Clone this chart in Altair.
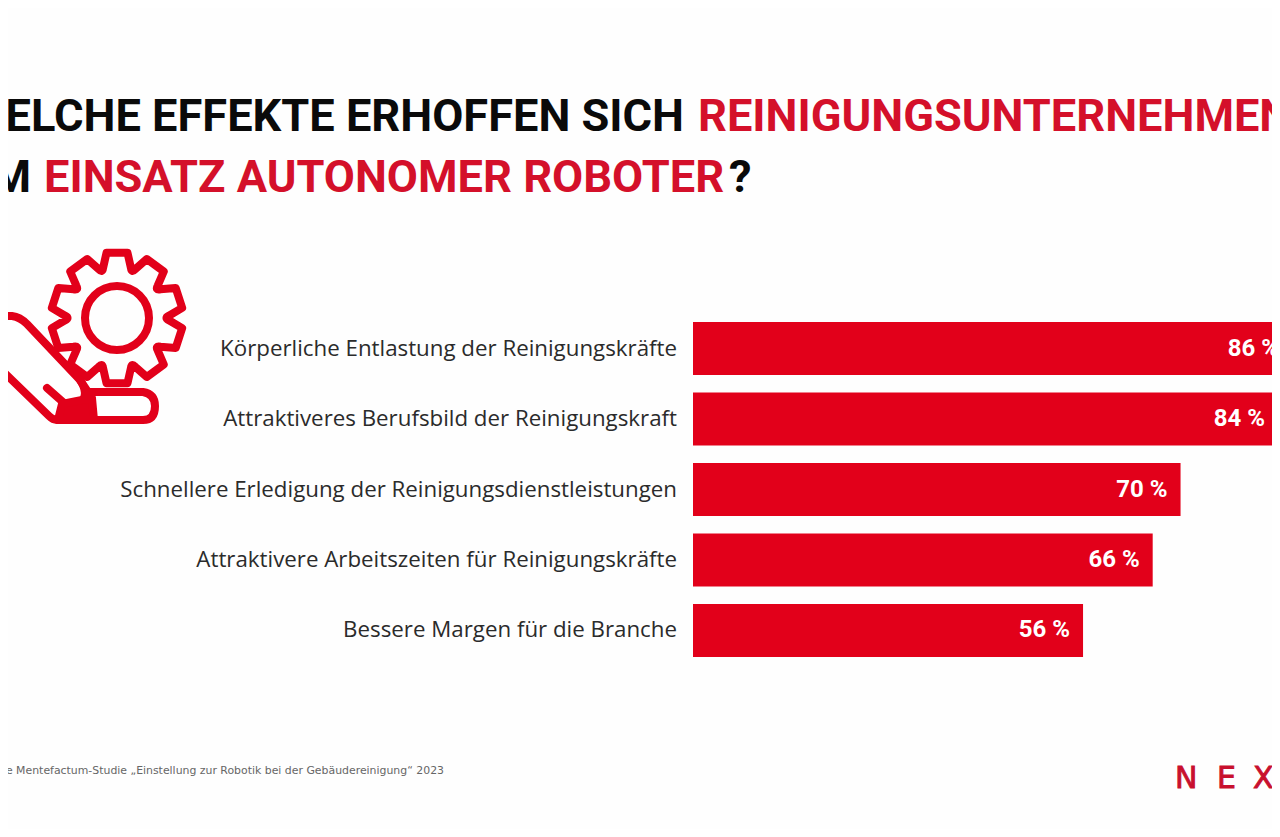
import math
import altair as alt

categories = ["Körperliche Entlastung der Reinigungskräfte", "Attraktiveres Berufsbild der Reinigungskraft",
              "Schnellere Erledigung der Reinigungsdienstleistungen", "Attraktivere Arbeitszeiten für Reinigungskräfte",
              "Bessere Margen für die Branche"]
values = [86, 84, 70, 66, 56]
pct_labels = ["86 %", "84 %", "70 %", "66 %", "56 %"]
title_parts = ["WELCHE EFFEKTE ERHOFFEN SICH", "REINIGUNGSUNTERNEHMEN", "BEIM", "EINSATZ AUTONOMER ROBOTER", "?"]
footnote = "ve Mentefactum-Studie „Einstellung zur Robotik bei der Gebäudereinigung“ 2023"
logo_letters = ["N", "E", "X"]

RED = "#e2001a"
TITLE_RED = "#d4102a"
W, H = 1264, 821
TF = "Roboto"


def text(s, x, y, color, size, weight="normal", align="left", font=TF, **extra):
    return alt.Chart(alt.Data(values=[{"t": s}])).mark_text(
        align=align, baseline="alphabetic", color=color, fontSize=size, fontWeight=weight, font=font, **extra
    ).encode(x=alt.value(x - 8), y=alt.value(y - 8), text="t:N")


rows = [{"c": c, "v": v, "p": p} for c, v, p in zip(categories, values, pct_labels)]
base = alt.Chart(alt.Data(values=rows))
yenc = alt.Y("c:N", sort=None, axis=None,
             scale=alt.Scale(domain=categories, range=[314, 649], paddingInner=0.248, paddingOuter=0))
xscale = alt.Scale(domain=[0, 86], range=[685, 1284], nice=False)

bars = base.mark_bar(color=RED).encode(x=alt.X("v:Q", scale=xscale, axis=None), y=yenc)
pct = base.mark_text(align="right", baseline="middle", dx=-13, color="#ffffff", fontSize=24, fontWeight="bold",
                     font=TF).encode(x=alt.X("v:Q", scale=xscale, axis=None), y=yenc, text="p:N")
labels = base.mark_text(align="right", baseline="middle", color="#2b2b2b", fontSize=22.3, font="Open Sans").encode(
    x=alt.value(669), y=yenc, text="c:N")

# icon, drawn as custom symbols whose path units are page pixels
cx, cy = 117, 318
n = 10
gear_path = ""
for i in range(n):
    a0 = -math.pi / 2 + i * 2 * math.pi / n
    seq = [(-0.27, 52), (-0.16, 66), (0.16, 66), (0.27, 52)]
    p = [(cx + r * math.cos(a0 + d), cy + r * math.sin(a0 + d)) for d, r in seq]
    if i == 0:
        gear_path += f"M{p[0][0]:.1f},{p[0][1]:.1f} "
    else:
        am = a0 - math.pi / n
        gear_path += f"Q{cx + 47 * math.cos(am):.1f},{cy + 47 * math.sin(am):.1f} {p[0][0]:.1f},{p[0][1]:.1f} "
    gear_path += " ".join(f"L{x:.1f},{y:.1f}" for x, y in p[1:]) + " "
am = -math.pi / 2 - math.pi / n
gear_path += f"Q{cx + 47 * math.cos(am):.1f},{cy + 47 * math.sin(am):.1f} " \
             f"{cx + 52 * math.cos(-math.pi / 2 - 0.27):.1f},{cy + 52 * math.sin(-math.pi / 2 - 0.27):.1f} Z"
hole_path = f"M{cx-32},{cy} A32,32 0 1,0 {cx+32},{cy} A32,32 0 1,0 {cx-32},{cy} Z"
hand_path = ("M-15,316 L12,316 Q20,317 27,324 L80,380 L88,392 L143,392 Q155,394 155,406 Q155,420 143,420 "
             "L57,420 Q53,420 49,416 L-15,354 Z")
tip_path = "M80,380 Q90,395 80,403 Q72,408 64,403 L47,388"
block_path = "M62,404 L92,398 L94,420 L58,420 Z"


def icon(path, fill=None, sw=8):
    kw = {"fill": fill, "filled": True} if fill else {"filled": False}
    return alt.Chart(alt.Data(values=[{"a": 1}])).mark_point(
        shape=path, size=4, stroke=RED, strokeWidth=sw, opacity=1, strokeJoin="round", strokeCap="round", **kw
    ).encode(x=alt.value(-8), y=alt.value(-8))


logo_x = [1175, 1217, 1253]
TS = 45.2
layers = [
    text(title_parts[0], 684, 131, "#0a0a0a", TS, "bold", "right"),
    text(title_parts[1], 698, 131, TITLE_RED, TS, "bold"),
    text(title_parts[2], 31, 192, "#0a0a0a", TS, "bold", "right"),
    text(title_parts[3], 44, 192, TITLE_RED, TS, "bold"),
    text(title_parts[4], 729, 192, "#0a0a0a", TS, "bold"),
    icon(gear_path), icon(hole_path), icon(hand_path, "#ffffff"), icon(tip_path), icon(block_path, RED),
    bars, pct, labels,
    text(footnote, 444, 774, "#666666", 10.9, "normal", "right", "DejaVu Sans"),
] + [text(l, x, 788, "#c8102e", 30, "normal", "left", "DejaVu Sans", stroke="#c8102e", strokeWidth=0.9)
     for l, x in zip(logo_letters, logo_x)]

chart = alt.layer(*layers).properties(
    width=W, height=H, padding=0, background="#fefefe",
    autosize=alt.AutoSizeParams(type="none"),
).configure_view(stroke=None).resolve_scale(x="shared", y="shared")

chart.save("out.html", embed_options={"renderer": "svg", "actions": False})
